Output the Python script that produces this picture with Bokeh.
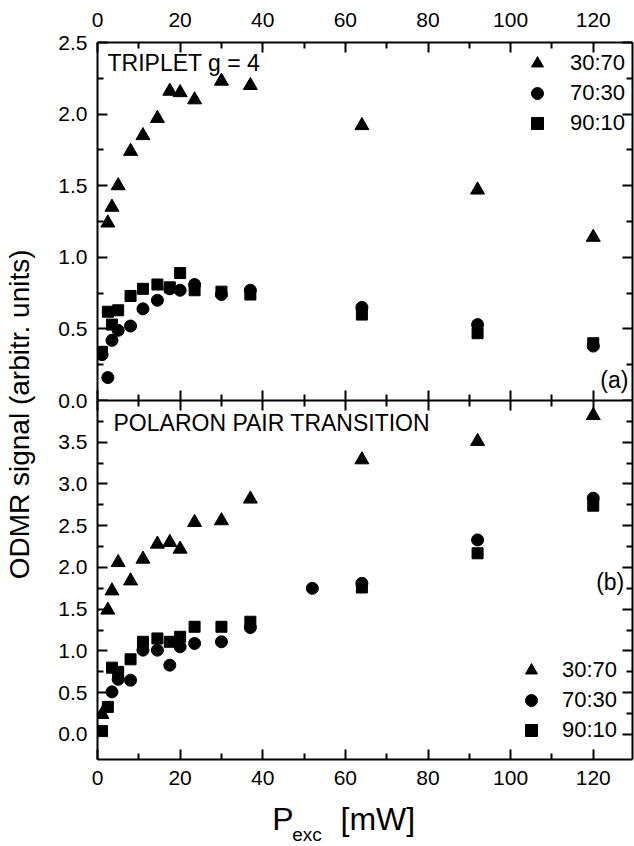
import math
from bokeh.plotting import figure
from bokeh.models import (Range1d, LinearAxis, FixedTicker, Label, Legend,
                          LegendItem, NumeralTickFormatter, CustomJSTickFormatter)
from bokeh.layouts import row, column
from bokeh.embed import file_html
from bokeh.resources import INLINE

FONT = "Liberation Sans"

# ---------------- data ----------------
x_ticks = [0, 20, 40, 60, 80, 100, 120]
x_minor = [10, 30, 50, 70, 90, 110]
top_y_ticks = [0.0, 0.5, 1.0, 1.5, 2.0, 2.5]
top_y_minor = [0.25, 0.75, 1.25, 1.75, 2.25]
bot_y_ticks = [0.0, 0.5, 1.0, 1.5, 2.0, 2.5, 3.0, 3.5]
bot_y_minor = [0.25, 0.75, 1.25, 1.75, 2.25, 2.75, 3.25, 3.75]

series_names = ["30:70", "70:30", "90:10"]

# (a) triplet g = 4
a_tri_x = [2.5, 3.5, 5, 8, 11, 14.5, 17.5, 20, 23.5, 30, 37, 64, 92, 120]
a_tri_y = [1.24, 1.35, 1.50, 1.74, 1.85, 1.97, 2.16, 2.15, 2.10, 2.23, 2.20, 1.92, 1.47, 1.14]
a_cir_x = [1.1, 2.5, 3.5, 5, 8, 11, 14.5, 17.5, 20, 23.5, 30, 37, 64, 92, 120]
a_cir_y = [0.32, 0.16, 0.42, 0.49, 0.52, 0.64, 0.70, 0.78, 0.77, 0.81, 0.74, 0.77, 0.65, 0.53, 0.38]
a_sq_x = [1.1, 2.5, 3.5, 5, 8, 11, 14.5, 17.5, 20, 23.5, 30, 37, 64, 92, 120]
a_sq_y = [0.34, 0.62, 0.53, 0.63, 0.73, 0.78, 0.81, 0.79, 0.89, 0.77, 0.76, 0.74, 0.60, 0.47, 0.40]

# (b) polaron pair transition
b_tri_x = [1.1, 2.5, 3.5, 5, 8, 11, 14.5, 17.5, 20, 23.5, 30, 37, 64, 92, 120]
b_tri_y = [0.24, 1.49, 1.72, 2.06, 1.84, 2.10, 2.28, 2.30, 2.22, 2.54, 2.56, 2.82, 3.29, 3.51, 3.82]
b_cir_x = [3.5, 5, 8, 11, 14.5, 17.5, 20, 23.5, 30, 37, 52, 64, 92, 120]
b_cir_y = [0.51, 0.66, 0.65, 1.01, 1.01, 0.83, 1.05, 1.09, 1.11, 1.28, 1.75, 1.81, 2.33, 2.83]
b_sq_x = [1.1, 2.5, 3.5, 5, 8, 11, 14.5, 17.5, 20, 23.5, 30, 37, 64, 92, 120]
b_sq_y = [0.04, 0.33, 0.80, 0.75, 0.90, 1.11, 1.15, 1.11, 1.17, 1.29, 1.29, 1.35, 1.76, 2.17, 2.74]

X_MAX = 129.5
W_MAIN = 582
B_LEFT = 45
B_RIGHT = 2


def mk_axis(ticks, minor, labels, fmt=None, standoff=8):
    ax = LinearAxis(ticker=FixedTicker(ticks=ticks, minor_ticks=minor))
    ax.axis_line_width = 2
    ax.axis_line_color = "black"
    ax.major_tick_line_width = 2
    ax.minor_tick_line_width = 2
    ax.major_tick_line_color = "black"
    ax.minor_tick_line_color = "black"
    ax.major_tick_in = 10
    ax.major_tick_out = 0
    ax.minor_tick_in = 6
    ax.minor_tick_out = 0
    if labels:
        if fmt is not None:
            ax.formatter = fmt
        ax.major_label_text_font = FONT
        ax.major_label_text_font_size = "21px"
        ax.major_label_text_color = "black"
        ax.major_label_standoff = standoff
    else:
        ax.formatter = CustomJSTickFormatter(code="return ''")
        ax.major_label_text_font_size = "1px"
        ax.major_label_standoff = 0
    return ax


def mk_panel(height, y0, y1, yt, ym, top_labels, bottom_labels, mb_top, mb_bottom):
    p = figure(width=W_MAIN, height=height, x_range=Range1d(0, X_MAX),
               y_range=Range1d(y0, y1), output_backend="svg", title=None,
               toolbar_location=None, x_axis_type=None, y_axis_type=None)
    p.min_border = 0
    p.min_border_left = B_LEFT
    p.min_border_right = B_RIGHT
    p.min_border_top = mb_top
    p.min_border_bottom = mb_bottom
    p.outline_line_color = None
    p.background_fill_color = "white"
    p.add_layout(mk_axis(x_ticks, x_minor, top_labels, standoff=16), "above")
    p.add_layout(mk_axis(x_ticks, x_minor, bottom_labels, standoff=11), "below")
    p.add_layout(mk_axis(yt, ym, True, NumeralTickFormatter(format="0.0"), standoff=10), "left")
    p.add_layout(mk_axis(yt, ym, False), "right")
    return p


def add_series(p, tx, ty, cx, cy, sx, sy):
    r_sq = p.scatter(sx, sy, marker="square", size=11, color="black")
    r_ci = p.scatter(cx, cy, marker="circle", size=12, color="black")
    r_tr = p.scatter(tx, ty, marker="triangle", size=14, color="black")
    return r_tr, r_ci, r_sq


def add_legend(p, rends, loc, standoff):
    items = [LegendItem(label=n, renderers=[r]) for n, r in zip(series_names, rends)]
    lg = Legend(items=items, location=loc)
    lg.label_text_font = FONT
    lg.label_text_font_size = "22px"
    lg.label_text_color = "black"
    lg.glyph_width = 30
    lg.glyph_height = 30
    lg.label_height = 24
    lg.spacing = 0
    lg.padding = 0
    lg.margin = 0
    lg.label_standoff = standoff
    lg.border_line_color = None
    lg.background_fill_alpha = 0
    p.add_layout(lg)


def txt(x, y, s, size, align="left", baseline="middle", angle=0.0):
    return Label(x=x, y=y, text=s, text_font=FONT, text_font_size=size,
                 text_color="black", text_align=align, text_baseline=baseline,
                 angle=angle)


def blank_fig(w, h, left=0, right=0):
    f = figure(width=w, height=h, x_range=Range1d(0, w - left - right), y_range=Range1d(0, h),
               output_backend="svg", toolbar_location=None, title=None,
               x_axis_type=None, y_axis_type=None)
    f.min_border = 0
    f.min_border_left = left
    f.min_border_right = right
    f.outline_line_color = None
    return f


# ---------------- top panel (a) ----------------
top = mk_panel(412, 0, 2.5, top_y_ticks, top_y_minor, True, False, 42, 12)
rt = add_series(top, a_tri_x, a_tri_y, a_cir_x, a_cir_y, a_sq_x, a_sq_y)
add_legend(top, rt, (425, 262), 18)
top.add_layout(txt(2.42, 2.36, "TRIPLET g = 4", "23px"))
top.add_layout(txt(128.5, 0.14, "(a)", "23px", align="right"))

# ---------------- bottom panel (b) ----------------
bot = mk_panel(399, -0.3, 4.0, bot_y_ticks, bot_y_minor, False, True, 0, 40)
bot.margin = (-12, 0, 0, 0)
bot.border_fill_alpha = 0
rb = add_series(bot, b_tri_x, b_tri_y, b_cir_x, b_cir_y, b_sq_x, b_sq_y)
add_legend(bot, rb, (419, 14), 16)
bot.add_layout(txt(3.88, 3.73, "POLARON PAIR TRANSITION", "23px"))
bot.add_layout(txt(127.5, 1.83, "(b)", "23px", align="right"))

# ---------------- x-axis title: P_exc [mW] (frame aligned with panels) ----------------
XL_H = 45
xlab = blank_fig(W_MAIN, XL_H, B_LEFT, B_RIGHT)
xlab.add_layout(txt(174.7, 26, "P", "32px"))
xlab.add_layout(txt(194.7, 10, "exc", "19px"))
xlab.add_layout(txt(243, 26, "[mW]", "32px"))

# ---------------- shared y-axis title ----------------
TOTAL_H = 412 - 12 + 399 + XL_H
ylab = blank_fig(52, TOTAL_H)
ylab.add_layout(txt(19, TOTAL_H - 410, "ODMR signal  (arbitr. units)", "28px",
                    align="center", baseline="middle", angle=math.pi / 2))

layout = row(ylab, column(top, bot, xlab))

open("out.html", "w").write(file_html(layout, INLINE))
